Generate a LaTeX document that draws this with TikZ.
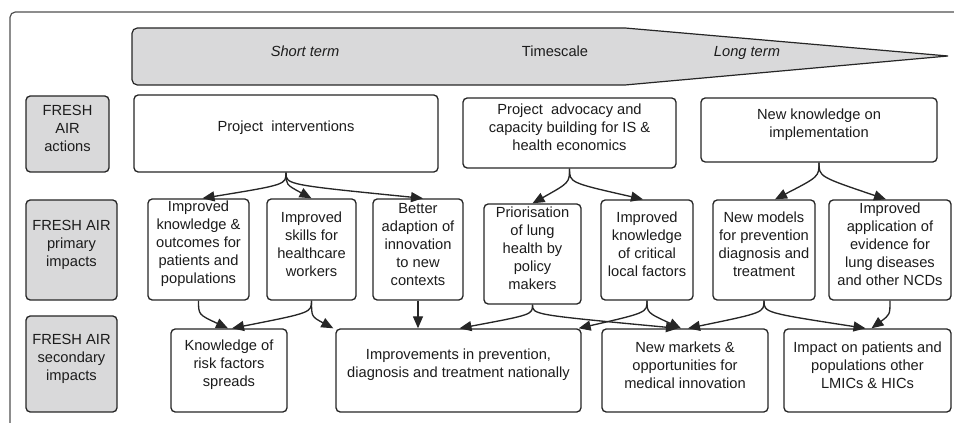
\documentclass[tikz,border=0pt]{standalone}
\usepackage{fontspec}
\setmainfont{Liberation Sans}
\usetikzlibrary{arrows.meta,fit,calc}
\definecolor{labelgray}{RGB}{217,217,218}
\definecolor{edge}{RGB}{38,38,38}
\definecolor{ink}{RGB}{28,28,28}
\definecolor{framegray}{RGB}{80,80,80}

\begin{document}
\begin{tikzpicture}[x=0.75pt,y=-0.75pt,
  txt/.style={font=\fontsize{11}{13.5}\selectfont, text=ink, align=center},
  box/.style={txt, draw=edge, line width=1pt, rounded corners=3.2pt, fill=white, inner sep=0pt},
  rowlabel/.style={box, fill=labelgray},
  link/.style={draw=edge, line width=1pt, -{Triangle[length=9pt,width=7.5pt]}},
]
\useasboundingbox (0,0) rectangle (954,423);

% outer frame (open to the right and bottom)
\draw[framegray, line width=0.9pt, rounded corners=4pt] (10,423) -- (10,12) -- (954,12);

% timescale band
\draw[edge, fill=labelgray, line width=0.9pt]
  (948,56) -- (625,85) -- (300,85) [rounded corners=4pt] -- (132,85) -- (132,28) -- (300,28)
  [sharp corners] -- (625,28) -- cycle;
\node[txt, anchor=base] (short) at (305,57) {\itshape Short term};
\node[txt, anchor=base] (scale) at (555,57) {Timescale};
\node[txt, anchor=base] (long)  at (747,57) {\itshape Long term};

% row labels
\node[rowlabel, fit={(26,96) (109,172)}]  (lact) {FRESH\\AIR\\actions};
\node[rowlabel, fit={(26,200) (117,300)}] (lpri) {FRESH AIR\\primary\\impacts};
\node[rowlabel, fit={(26,316) (117,412)}] (lsec) {FRESH AIR\\secondary\\impacts};

% actions
\node[box, fit={(134,95) (438,172)}] (pi) {Project~ interventions};
\node[box, fit={(463,98) (676,168)}] (pa) {Project~ advocacy and\\capacity building for IS \&\\health economics};
\node[box, fit={(701,98) (937,162)}] (nk) {New knowledge on\\implementation};

% primary impacts
\node[box, fit={(148,199) (249,300)}] (k1) {Improved\\knowledge \&\\outcomes for\\patients and\\populations};
\node[box, fit={(267,199) (356,300)}] (k2) {Improved\\skills for\\healthcare\\workers};
\node[box, fit={(373,199) (463,300)}] (k3) {Better\\adaption of\\innovation\\to new\\contexts};
\node[box, fit={(484,204) (581,304)}] (k4) {Priorisation\\of lung\\health by\\policy\\makers};
\node[box, fit={(601,200) (693,300)}] (k5) {Improved\\knowledge\\of critical\\local factors};
\node[box, fit={(713,200) (815,300)}] (k6) {New models\\for prevention\\diagnosis and\\treatment};
\node[box, fit={(829,200) (951,300)}] (k7) {Improved\\application of\\evidence for\\lung diseases\\and other NCDs};

% secondary impacts
\node[box, fit={(171,329) (287,412)}] (s1) {Knowledge of\\risk factors\\spreads};
\node[box, fit={(336,329) (581,412)}] (s2) {Improvements in prevention,\\diagnosis and treatment nationally};
\node[box, fit={(602,329) (768,412)}] (s3) {New markets \&\\opportunities for\\medical innovation};
\node[box, fit={(784,329) (951,412)}] (s4) {Impact on patients and\\populations other\\LMICs \& HICs};

% actions -> primary impacts
\draw[link] (pi.south) .. controls +(0,12) .. ($(k1.north)+(4,0)$);
\draw[link] (pi.south) .. controls +(0,12) .. (k2.north);
\draw[link] (pi.south) .. controls +(0,12) .. ($(k3.north)+(5,0)$);
\draw[link] (pa.south) .. controls +(0,14) .. (k4.north);
\draw[link] (pa.south) .. controls +(0,14) .. ($(k5.north)+(-4,0)$);
\draw[link] (nk.south) .. controls +(0,14) .. ($(k6.north)+(11,0)$);
\draw[link] (nk.south) .. controls +(0,14) .. ($(k7.north)+(-4,0)$);

% primary -> secondary impacts
\draw[link] (k1.south) .. controls +(0,14) .. ($(s1.north)+(-1,0)$);
\draw[link] (k2.south) .. controls +(0,12) .. ($(s1.north)+(3,0)$);
\draw[link] (k2.south) .. controls +(0,16) .. ($(s2.north west)+(-2,0)$);
\draw[link] (k3.south) -- (k3.south |- s2.north);
\draw[link] (k4.south) .. controls +(0,10) .. ($(s2.north)+(1,0)$);
\draw[link] (k4.south) .. controls +(0,10) .. ($(s3.north)+(-7,0)$);
\draw[link] (k5.south) .. controls +(0,12) .. ($(s2.north east)+(-3,0)$);
\draw[link] (k5.south) .. controls +(0,12) .. ($(s3.north)+(-4,0)$);
\draw[link] (k6.south) .. controls +(0,12) .. ($(s3.north)+(3,0)$);
\draw[link] (k6.south) .. controls +(0,12) .. ($(s4.north)+(-2,0)$);
\draw[link] (k7.south) .. controls +(0,14) .. ($(s4.north)+(4,0)$);
\end{tikzpicture}
\end{document}
